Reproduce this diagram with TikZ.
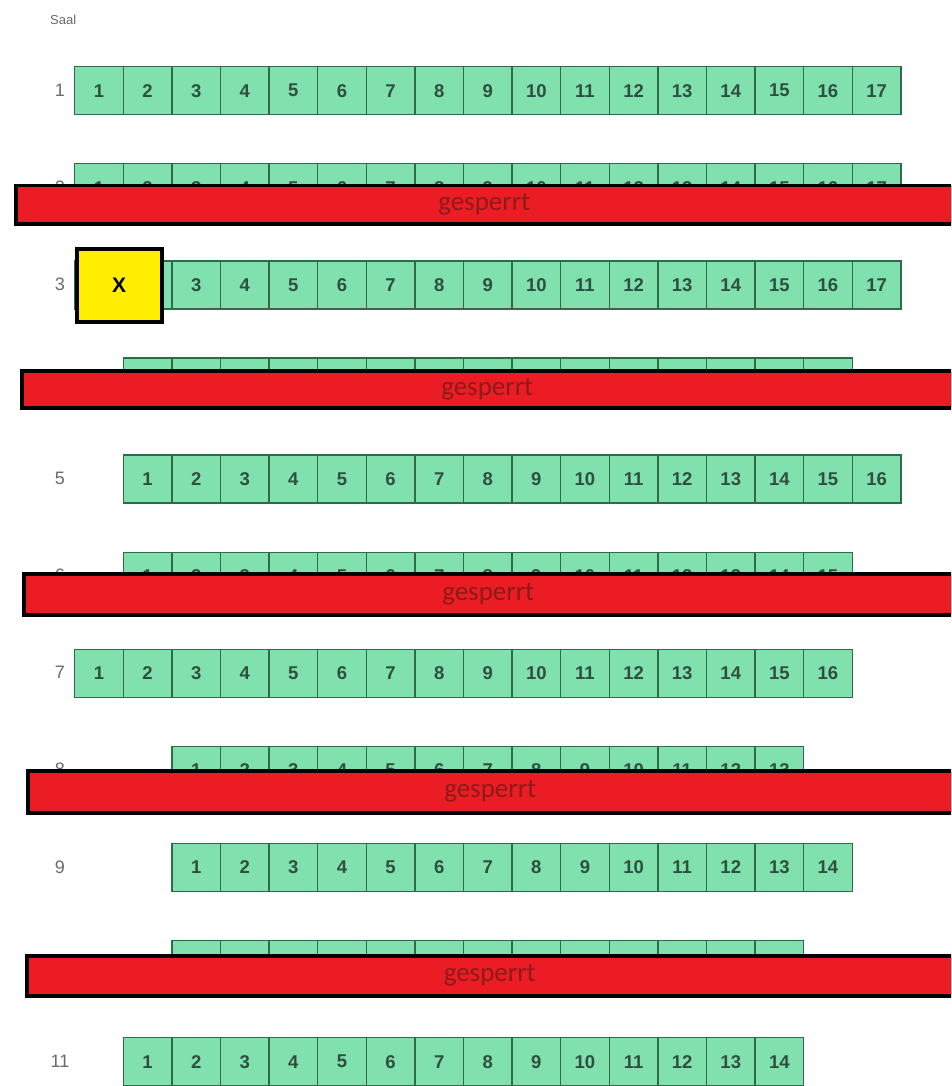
\documentclass[tikz,border=0pt]{standalone}
\usepackage{fontspec}
\setmainfont{Liberation Sans}
\newfontfamily\carl{Carlito}
\definecolor{seatfill}{HTML}{80E0AE}
\definecolor{seatdraw}{HTML}{2F6B4A}
\definecolor{seattext}{HTML}{2F4F3F}
\definecolor{barred}{HTML}{EC1C24}
\definecolor{bartext}{HTML}{8E1A1A}
\definecolor{labelgray}{HTML}{6A6A6A}
\definecolor{xyellow}{HTML}{FFEE00}
\begin{document}
\begin{tikzpicture}[x=1pt,y=-1pt,
  seat/.style={draw=seatdraw, fill=seatfill, line width=1.3pt, minimum width=48.6pt, minimum height=48pt,
    inner sep=0pt, anchor=north west, text=seattext, font=\fontsize{18.5}{18.5}\selectfont\bfseries},
  rowlabel/.style={text=labelgray, font=\fontsize{18}{18}\selectfont, inner sep=0pt},
  blockbar/.style={draw=black, fill=barred, line width=3.5pt, inner sep=0pt, anchor=north west,
    text=bartext, font=\carl\fontsize{27}{27}\selectfont},
  xbox/.style={draw=black, fill=xyellow, line width=3.5pt, inner sep=0pt, anchor=north west,
    font=\fontsize{21}{21}\selectfont\bfseries}
]
\useasboundingbox (0,0) rectangle (951,1086);
\begin{scope}
\clip (0,0) rectangle (951,1086);
\node[text=labelgray, font=\fontsize{13}{13}\selectfont, anchor=west, inner sep=0pt] (saal) at (50,20) {Saal};
\foreach \r/\k/\n in {1/0/17, 2/0/17, 3/0/17, 4/1/15, 5/1/16, 6/1/15, 7/0/16, 8/2/13, 9/2/14, 10/2/13, 11/1/14} {
  \pgfmathsetmacro\ytop{66+97.1*(\r-1)}
  \node[rowlabel] (row\r) at (60,\ytop+24) {\r};
  \foreach \s in {1,...,\n} {
    \node[seat] (r\r s\s) at ({74+48.6*(\k+\s-1)},\ytop) {\s};
  }
}
\node[xbox, minimum width=85pt, minimum height=73pt] (xseat) at (75,247) {X};
\node[blockbar, minimum width=937pt, minimum height=38pt] (bar2) at (14,184) {gesperrt};
\node[blockbar, minimum width=931pt, minimum height=37pt] (bar4) at (20,369) {gesperrt};
\node[blockbar, minimum width=929pt, minimum height=41pt] (bar6) at (22,572) {gesperrt};
\node[blockbar, minimum width=925pt, minimum height=42pt] (bar8) at (26,769) {gesperrt};
\node[blockbar, minimum width=926pt, minimum height=40pt] (bar10) at (25,954) {gesperrt};
\end{scope}
\end{tikzpicture}
\end{document}
